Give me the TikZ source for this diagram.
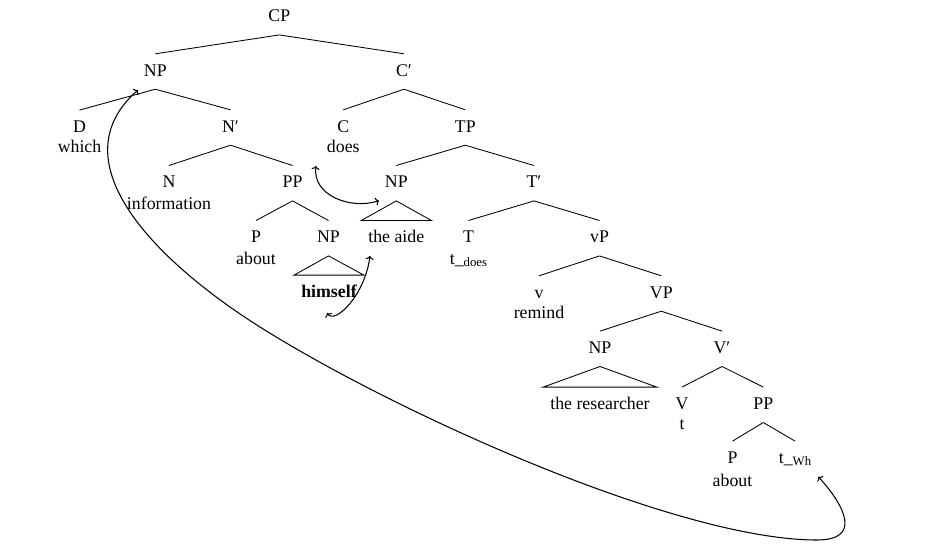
\documentclass[tikz,border=0pt]{standalone}
\usepackage{fontspec}
\setmainfont{Liberation Serif}
\usetikzlibrary{calc,arrows.meta}
\tikzset{
  lab/.style={anchor=base, text height=12pt, text depth=3pt, inner xsep=2pt, inner ysep=10pt,
              font=\fontsize{17.8}{20.5}\selectfont},
  leaf/.style={lab, inner xsep=7pt},
  word/.style={anchor=base, inner sep=0pt, font=\fontsize{17.8}{20.5}\selectfont},
  edge/.style={line width=0.85pt},
  tri/.style={line width=0.85pt, line join=miter},
  mv/.style={line width=1.05pt, {To[length=3.5pt,width=8pt]}-{To[length=3.5pt,width=8pt]}},
}
\newcommand{\trsub}[1]{\_{\fontsize{12.8}{14}\selectfont\raisebox{-2pt}{#1}}}
\begin{document}
\begin{tikzpicture}[x=1pt, y=-1pt]
\useasboundingbox (0,0) rectangle (945,547);
% nodes
\node[lab] (cp) at (279.3,21.7) {CP};
\node[lab] (np1) at (155.3,76) {NP};
\node[lab] (c1) at (404,76) {C′};
\node[lab] (d) at (79.5,132.3) {D};
\node[word] (which) at (79.5,152.7) {which};
\node[lab] (n1) at (230.5,132) {N′};
\node[lab] (c) at (343.3,132) {C};
\node[word] (does) at (343.3,152.5) {does};
\node[lab] (tp) at (465.3,132) {TP};
\node[lab] (n) at (169,187.7) {N};
\node[word] (info) at (169,209) {information};
\node[lab] (pp1) at (292.5,187.7) {PP};
\node[lab] (np2) at (396.3,187.7) {NP};
\node[lab] (tbar) at (534,187.7) {T′};
\node[lab] (p1) at (256,242.7) {P};
\node[word] (about1) at (256,264.3) {about};
\node[lab] (np3) at (328.5,242.7) {NP};
\node[leaf] (aide) at (396.3,242.7) {the aide};
\node[lab] (t) at (468.5,242.7) {T};
\node[word] (tdoes) at (468.5,264) {t\trsub{does}};
\node[lab] (vp) at (599.5,242.7) {vP};
\node[leaf] (himself) at (329,297.3) {\bfseries himself};
\node[lab] (v) at (539,298) {v};
\node[word] (remind) at (539,318.5) {remind};
\node[lab] (vp2) at (661.3,298) {VP};
\node[lab] (np4) at (600,353.3) {NP};
\node[lab] (vbar) at (722,353.3) {V′};
\node[leaf] (res) at (600,409.3) {the researcher};
\node[lab] (v2) at (682,409.3) {V};
\node[word] (vt) at (682,429.5) {t};
\node[lab] (pp2) at (763.3,409.3) {PP};
\node[lab] (p2) at (732.5,463.3) {P};
\node[word] (about2) at (732.5,486) {about};
\node[lab] (twh) at (795,463.3) {t\trsub{Wh}};
% edges
\draw[edge] (cp.south) -- (np1.north);
\draw[edge] (cp.south) -- (c1.north);
\draw[edge] (np1.south) -- (d.north);
\draw[edge] (np1.south) -- (n1.north);
\draw[edge] (c1.south) -- (c.north);
\draw[edge] (c1.south) -- (tp.north);
\draw[edge] (n1.south) -- (n.north);
\draw[edge] (n1.south) -- (pp1.north);
\draw[edge] (tp.south) -- (np2.north);
\draw[edge] (tp.south) -- (tbar.north);
\draw[edge] (pp1.south) -- (p1.north);
\draw[edge] (pp1.south) -- (np3.north);
\draw[edge] (tbar.south) -- (t.north);
\draw[edge] (tbar.south) -- (vp.north);
\draw[edge] (vp.south) -- (v.north);
\draw[edge] (vp.south) -- (vp2.north);
\draw[edge] (vp2.south) -- (np4.north);
\draw[edge] (vp2.south) -- (vbar.north);
\draw[edge] (vbar.south) -- (v2.north);
\draw[edge] (vbar.south) -- (pp2.north);
\draw[edge] (pp2.south) -- (p2.north);
\draw[edge] (pp2.south) -- (twh.north);
% triangles
\draw[tri] (np2.south) -- (aide.north west) -- (aide.north east) -- cycle;
\draw[tri] (np3.south) -- (himself.north west) -- (himself.north east) -- cycle;
\draw[tri] (np4.south) -- (res.north west) -- (res.north east) -- cycle;
% movement arrows
\coordinate (wh-a) at ([shift={(-17.3,14)}]np1.base);
\coordinate (wh-b) at ([shift={(23.3,13.4)}]twh.base);
\coordinate (do-a) at ([shift={(-27.3,13.5)}]does.base);
\coordinate (do-b) at ([shift={(-17.3,13)}]np2.base);
\coordinate (hi-a) at ([shift={(-2,15.7)}]himself.base);
\coordinate (hi-b) at ([shift={(-26.3,13.3)}]aide.base);
\draw[mv] (wh-a) .. controls (55.5,162.6) and (158.5,263) .. (260,327)
  .. controls (395.4,412.3) and (677,540) .. (817,540)
  .. controls (862,540) and (845.2,506.2) .. (wh-b);
\draw[mv] (do-a) .. controls (312,195) and (350,210) .. (do-b);
\draw[mv] (hi-a) .. controls (335,325) and (365,295) .. (hi-b);
\end{tikzpicture}
\end{document}
